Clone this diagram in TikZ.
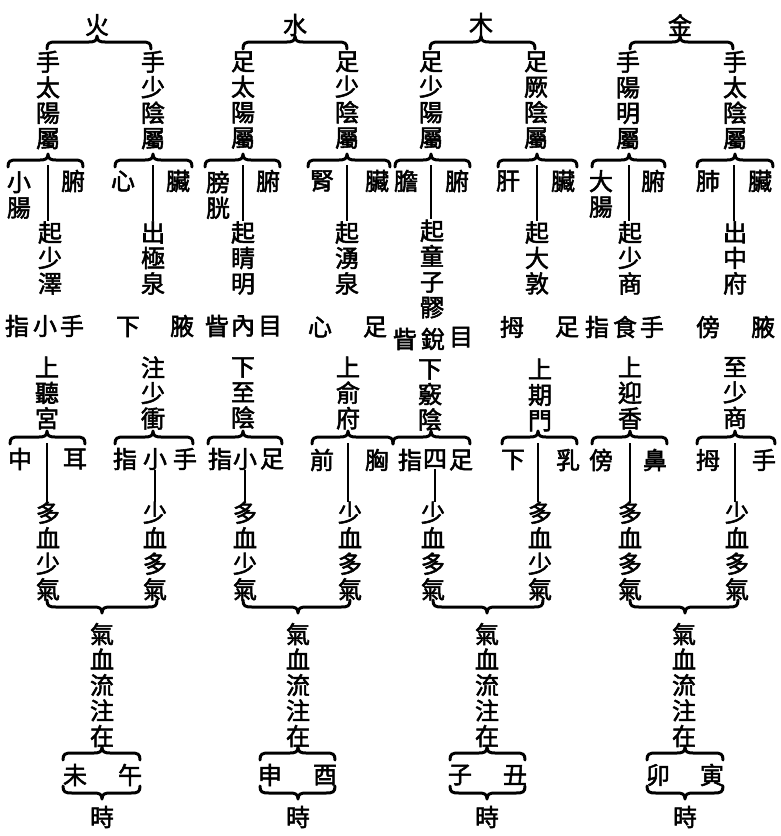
\documentclass[tikz,border=0pt]{standalone}
\usepackage{fontspec}
\newfontfamily\cjk{Noto Sans CJK TC}[FakeBold=2.2]
\tikzset{
  zi/.style={font=\cjk\fontsize{24}{25.5}\selectfont, inner sep=0pt, align=center},
  br/.style={line width=3pt, line cap=round, line join=round},
  vl/.style={line width=2.8pt},
}
% brace opening downwards, point up at #2 (x1, xm, x2, y)
\newcommand\bup[4]{\draw[br] (#1,#4+7) .. controls (#1,#4+1) and (#1+2,#4) .. (#1+9,#4) -- (#2-8,#4) .. controls (#2-3,#4) and (#2,#4-1) .. (#2,#4-6) .. controls (#2,#4-1) and (#2+3,#4) .. (#2+8,#4) -- (#3-9,#4) .. controls (#3-2,#4) and (#3,#4+1) .. (#3,#4+7);}
% brace opening upwards, point down at #2
\newcommand\bdn[4]{\draw[br] (#1,#4-7) .. controls (#1,#4-1) and (#1+2,#4) .. (#1+9,#4) -- (#2-8,#4) .. controls (#2-3,#4) and (#2,#4+1) .. (#2,#4+6) .. controls (#2,#4+1) and (#2+3,#4) .. (#2+8,#4) -- (#3-9,#4) .. controls (#3-2,#4) and (#3,#4-1) .. (#3,#4-7);}
\begin{document}
\begin{tikzpicture}[x=1pt,y=-1pt]
\fill[white] (0,0) rectangle (781,836);
\useasboundingbox (0,0) rectangle (781,836);
% ================= 火 =================
\node[zi] (F) at (97,25) {火};
\bup{47}{97}{151}{42}
\node[zi] (FL) at (48,100) {手\\太\\陽\\屬};
\node[zi] (FR) at (153,100) {手\\少\\陰\\屬};
\bup{8}{48}{83}{160}
\bup{115}{153}{192}{160}
\node[zi] (FLa) at (19,195) {小\\腸};
\node[zi] (FLb) at (73,181) {腑};
\node[zi] (FRa) at (123,181) {心};
\node[zi] (FRb) at (178,181) {臟};
\node[zi] (FLc) at (50,258) {起\\少\\澤};
\node[zi] (FRc) at (153,258) {出\\極\\泉};
\coordinate (FLp) at (48,165); \draw[vl] (FLp) -- (FLp |- FLc.north);
\coordinate (FRp) at (153,165); \draw[vl] (FRp) -- (FRp |- FRc.north);
\node[zi] (FLd1) at (17,326) {指};
\node[zi] (FLd2) at (45,326) {小};
\node[zi] (FLd3) at (72,326) {手};
\node[zi] (FRd1) at (128,327) {下};
\node[zi] (FRd2) at (182,326) {腋};
\node[zi] (FLe) at (47,393) {上\\聽\\宮};
\node[zi] (FRe) at (153,393) {注\\少\\衝};
\bup{10}{47}{85}{437}
\bup{115}{153}{193}{437}
\node[zi] (FLf1) at (20,459) {中};
\node[zi] (FLf2) at (75,459) {耳};
\node[zi] (FRf1) at (125,459) {指};
\node[zi] (FRf2) at (155,459) {小};
\node[zi] (FRf3) at (185,459) {手};
\node[zi] (FLg) at (48,551) {多\\血\\少\\氣};
\node[zi] (FRg) at (155,551) {少\\血\\多\\氣};
\coordinate (FLq) at (47,443); \draw[vl] (FLq) -- (FLq |- FLg.north);
\draw[vl] (FRf2.south) -- (FRf2.south |- FRg.north);
\bdn{47}{102}{157}{607}
\node[zi] (Fh) at (102,685) {氣\\血\\流\\注\\在};
\bup{63}{102}{140}{753}
\node[zi] (Fi1) at (75,775) {未};
\node[zi] (Fi2) at (130,775) {午};
\bdn{63}{102}{140}{793}
\node[zi] (Fj) at (102,817) {時};
% ================= 水 =================
\node[zi] (W) at (295,25) {水};
\bup{243}{295}{347}{42}
\node[zi] (WL) at (243,100) {足\\太\\陽\\屬};
\node[zi] (WR) at (347,100) {足\\少\\陰\\屬};
\bup{205}{243}{280}{160}
\bup{308}{347}{390}{160}
\node[zi] (WLa) at (218,195) {膀\\胱};
\node[zi] (WLb) at (268,181) {腑};
\node[zi] (WRa) at (322,181) {腎};
\node[zi] (WRb) at (377,181) {臟};
\node[zi] (WLc) at (243,258) {起\\睛\\明};
\node[zi] (WRc) at (347,258) {起\\湧\\泉};
\coordinate (WLp) at (243,165); \draw[vl] (WLp) -- (WLp |- WLc.north);
\coordinate (WRp) at (347,165); \draw[vl] (WRp) -- (WRp |- WRc.north);
\node[zi] (WLd1) at (217,326) {眥};
\node[zi] (WLd2) at (243,326) {內};
\node[zi] (WLd3) at (270,326) {目};
\node[zi] (WRd1) at (320,327) {心};
\node[zi] (WRd2) at (375,327) {足};
\node[zi] (WLe) at (243,393) {下\\至\\陰};
\node[zi] (WRe) at (348,393) {上\\俞\\府};
\bup{208}{243}{282}{437}
\bup{312}{348}{393}{437}
\node[zi] (WLf1) at (220,459) {指};
\node[zi] (WLf2) at (245,459) {小};
\node[zi] (WLf3) at (272,459) {足};
\node[zi] (WRf1) at (322,460) {前};
\node[zi] (WRf2) at (377,460) {胸};
\node[zi] (WLg) at (245,551) {多\\血\\少\\氣};
\node[zi] (WRg) at (350,551) {少\\血\\多\\氣};
\draw[vl] (WLf2.south) -- (WLf2.south |- WLg.north);
\coordinate (WRq) at (348,443); \draw[vl] (WRq) -- (WRq |- WRg.north);
\bdn{243}{298}{350}{607}
\node[zi] (Wh) at (298,685) {氣\\血\\流\\注\\在};
\bup{260}{298}{335}{753}
\node[zi] (Wi1) at (270,775) {申};
\node[zi] (Wi2) at (325,775) {酉};
\bdn{260}{298}{335}{793}
\node[zi] (Wj) at (298,817) {時};
% ================= 木 =================
\node[zi] (M) at (481,24) {木};
\bup{430}{481}{535}{42}
\node[zi] (ML) at (431,100) {足\\少\\陽\\屬};
\node[zi] (MR) at (536,100) {足\\厥\\陰\\屬};
\bup{395}{431}{470}{160}
\bup{498}{537}{577}{160}
\node[zi] (MLa) at (406,181) {膽};
\node[zi] (MLb) at (457,181) {腑};
\node[zi] (MRa) at (508,181) {肝};
\node[zi] (MRb) at (563,181) {臟};
\node[zi] (MLc) at (432,269) {起\\童\\子\\髎};
\node[zi] (MRc) at (537,258) {起\\大\\敦};
\coordinate (MLp) at (431,165); \draw[vl] (MLp) -- (MLp |- MLc.north);
\coordinate (MRp) at (537,165); \draw[vl] (MRp) -- (MRp |- MRc.north);
\node[zi] (MLd1) at (405,339) {眥};
\node[zi] (MLd2) at (433,339) {銳};
\node[zi] (MLd3) at (461,337) {目};
\node[zi] (MRd1) at (512,327) {拇};
\node[zi] (MRd2) at (567,327) {足};
\node[zi] (MLe) at (430,395) {下\\竅\\陰};
\node[zi] (MRe) at (540,395) {上\\期\\門};
\bup{393}{431}{470}{437}
\bup{502}{538}{577}{437}
\node[zi] (MLf1) at (410,460) {指};
\node[zi] (MLf2) at (435,459) {四};
\node[zi] (MLf3) at (461,460) {足};
\node[zi] (MRf1) at (513,460) {下};
\node[zi] (MRf2) at (568,460) {乳};
\node[zi] (MLg) at (433,551) {少\\血\\多\\氣};
\node[zi] (MRg) at (540,551) {多\\血\\少\\氣};
\draw[vl] (MLf2.south) -- (MLf2.south |- MLg.north);
\coordinate (MRq) at (538,443); \draw[vl] (MRq) -- (MRq |- MRg.north);
\bdn{433}{487}{543}{607}
\node[zi] (Mh) at (487,685) {氣\\血\\流\\注\\在};
\bup{450}{487}{525}{753}
\node[zi] (Mi1) at (460,775) {子};
\node[zi] (Mi2) at (515,775) {丑};
\bdn{450}{487}{525}{793}
\node[zi] (Mj) at (487,817) {時};
% ================= 金 =================
\node[zi] (J) at (680,25) {金};
\bup{630}{680}{733}{42}
\node[zi] (JL) at (628,100) {手\\陽\\明\\屬};
\node[zi] (JR) at (735,100) {手\\太\\陰\\屬};
\bup{592}{629}{665}{160}
\bup{697}{735}{773}{160}
\node[zi] (JLa) at (601,194) {大\\腸};
\node[zi] (JLb) at (653,181) {腑};
\node[zi] (JRa) at (708,181) {肺};
\node[zi] (JRb) at (760,181) {臟};
\node[zi] (JLc) at (630,258) {起\\少\\商};
\node[zi] (JRc) at (735,258) {出\\中\\府};
\coordinate (JLp) at (629,165); \draw[vl] (JLp) -- (JLp |- JLc.north);
\coordinate (JRp) at (734,165); \draw[vl] (JRp) -- (JRp |- JRc.north);
\node[zi] (JLd1) at (597,327) {指};
\node[zi] (JLd2) at (625,327) {食};
\node[zi] (JLd3) at (652,327) {手};
\node[zi] (JRd1) at (708,327) {傍};
\node[zi] (JRd2) at (763,327) {腋};
\node[zi] (JLe) at (630,393) {上\\迎\\香};
\node[zi] (JRe) at (735,393) {至\\少\\商};
\bup{592}{630}{667}{437}
\bup{697}{735}{775}{437}
\node[zi] (JLf1) at (601,460) {傍};
\node[zi] (JLf2) at (655,460) {鼻};
\node[zi] (JRf1) at (708,460) {拇};
\node[zi] (JRf2) at (764,460) {手};
\node[zi] (JLg) at (630,551) {多\\血\\多\\氣};
\node[zi] (JRg) at (737,551) {少\\血\\多\\氣};
\coordinate (JLq) at (630,443); \draw[vl] (JLq) -- (JLq |- JLg.north);
\coordinate (JRq) at (735,443); \draw[vl] (JRq) -- (JRq |- JRg.north);
\bdn{630}{685}{738}{607}
\node[zi] (Jh) at (684,685) {氣\\血\\流\\注\\在};
\bup{647}{685}{723}{753}
\node[zi] (Ji1) at (658,775) {卯};
\node[zi] (Ji2) at (712,775) {寅};
\bdn{647}{685}{723}{793}
\node[zi] (Jj) at (685,817) {時};
\end{tikzpicture}
\end{document}
